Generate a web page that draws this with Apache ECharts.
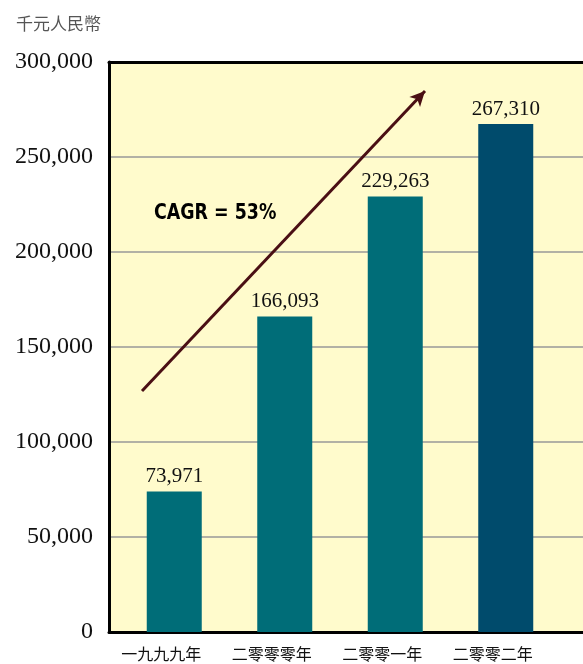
<!DOCTYPE html>
<html>
<head>
<meta charset="utf-8">
<script src="https://cdn.jsdelivr.net/npm/echarts@6/dist/echarts.min.js"></script>
<style>
html,body{margin:0;padding:0;background:#fff;}
#main{width:583px;height:664px;}
</style>
</head>
<body>
<div id="main"></div>
<script>
const unitLabel = '千元人民幣';
const categories = ['一九九九年', '二零零零年', '二零零一年', '二零零二年'];
const values = [73971, 166093, 229263, 267310];
const barColors = ['#006D78', '#006D78', '#006D78', '#004B6C'];
const yMin = 0, yMax = 300000, yStep = 50000;
const cagrText = 'CAGR = 53%';

const chart = echarts.init(document.getElementById('main'), null, {renderer: 'canvas'});
const serif = "'Liberation Serif', 'Times New Roman', serif";
const cjk = "'Noto Sans CJK TC', 'Noto Sans CJK SC', sans-serif";

chart.setOption({
  animation: false,
  backgroundColor: '#ffffff',
  title: {
    text: unitLabel,
    left: 11, top: 10,
    textStyle: {fontFamily: cjk, fontSize: 17, fontWeight: 'normal', color: '#555555'}
  },
  grid: [
    {left: 109, right: -5, top: 62, bottom: 32, show: true, backgroundColor: '#FFFBCC', borderWidth: 0},
    {left: 119, right: 22, top: 62, bottom: 32}
  ],
  xAxis: [
    {gridIndex: 0, type: 'value', position: 'bottom', min: 0, max: 1,
     axisLine: {show: true, lineStyle: {color: '#000', width: 3}}, axisTick: {show: false},
     axisLabel: {show: false}, splitLine: {show: false}},
    {gridIndex: 0, type: 'value', position: 'top', min: 0, max: 1,
     axisLine: {show: true, lineStyle: {color: '#000', width: 3}}, axisTick: {show: false},
     axisLabel: {show: false}, splitLine: {show: false}},
    {gridIndex: 1, type: 'category', data: categories, boundaryGap: true,
     axisLine: {show: false}, axisTick: {show: false},
     axisLabel: {margin: 14, padding: [0, 26, 0, 0], fontFamily: cjk, fontSize: 16, color: '#111111'}}
  ],
  yAxis: [
    {gridIndex: 0, type: 'value', min: yMin, max: yMax, interval: yStep,
     axisLine: {show: true, lineStyle: {color: '#000', width: 3}}, axisTick: {show: false},
     axisLabel: {margin: 16, padding: [4, 0, 0, 0], fontFamily: serif, fontSize: 24, color: '#111111',
       formatter: v => v.toLocaleString('en-US')},
     splitLine: {show: true, lineStyle: {color: '#999999', width: 1.5}}},
    {gridIndex: 1, type: 'value', min: yMin, max: yMax, interval: yStep, show: false,
     splitLine: {show: false}}
  ],
  series: [{
    type: 'bar',
    xAxisIndex: 2, yAxisIndex: 1,
    barWidth: 55,
    data: values.map((v, i) => ({value: v, itemStyle: {color: barColors[i]}})),
    label: {show: true, position: 'top', distance: 4, fontFamily: serif, fontSize: 21, color: '#111111',
      formatter: p => p.value.toLocaleString('en-US')},
    markLine: {
      silent: true,
      symbol: ['none', 'arrow'],
      symbolSize: [11, 15],
      label: {show: false},
      lineStyle: {color: '#4A0F14', width: 3, type: 'solid'},
      data: [[{x: 142, y: 391}, {x: 425, y: 91}]]
    }
  }],
  graphic: [{
    type: 'text', x: 154, y: 202, scaleX: 0.88,
    style: {text: cagrText, fill: '#000', font: "bold 22px 'DejaVu Sans Condensed', 'DejaVu Sans', sans-serif"}
  }]
});
</script>
</body>
</html>
